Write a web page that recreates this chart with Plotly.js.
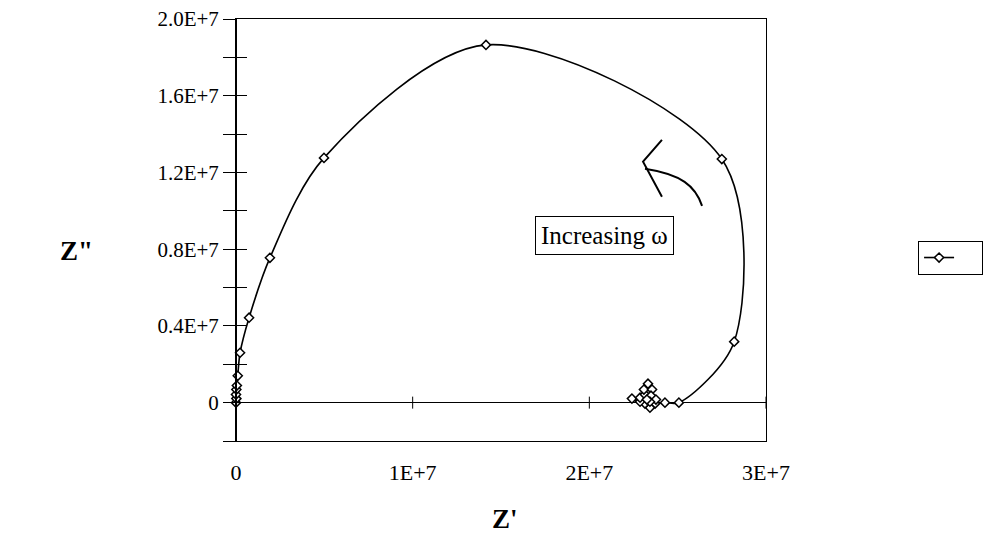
<!DOCTYPE html>
<html>
<head>
<meta charset="utf-8">
<script src="https://cdn.plot.ly/plotly-3.0.1.min.js"></script>
<style>html,body{margin:0;padding:0;background:#fff;}#chart{width:984px;height:534px;}</style>
</head>
<body>
<div id="chart"></div>
<script>
const zReal = [0, 2e4, 0, 2e4, 5e4, 1.0e5, 2.3e5, 7.4e5, 1.92e6, 4.98e6, 1.415e7, 2.75e7, 2.82e7, 2.507e7,
  2.428e7, 2.372e7, 2.343e7, 2.315e7, 2.287e7, 2.241e7, 2.287e7, 2.315e7, 2.309e7, 2.332e7, 2.355e7, 2.349e7, 2.377e7, 2.343e7, 2.326e7];
const zImag = [0, 2.1e5, 4.2e5, 6.8e5, 8.9e5, 1.4e6, 2.6e6, 4.43e6, 7.55e6, 1.276e7, 1.865e7, 1.27e7, 3.18e6, 0,
  0, -5e4, -2.6e5, -5e4, 5e4, 2.1e5, 2.6e5, 4.2e5, 6.8e5, 9.9e5, 6.8e5, 3.6e5, 1.6e5, 5e4, 1.6e5];

const yTickVals = [-2e6, 0, 2e6, 4e6, 6e6, 8e6, 1e7, 1.2e7, 1.4e7, 1.6e7, 1.8e7, 2e7];
const yTickText = ['', '0', '', '0.4E+7', '', '0.8E+7', '', '1.2E+7', '', '1.6E+7', '', '2.0E+7'];
const xTickVals = [0, 1e7, 2e7, 3e7];
const xTickText = ['0', '1E+7', '2E+7', '3E+7'];

const serif = 'Liberation Serif, Times New Roman, serif';
const xRange = [0, 3e7];
const yRange = [-2e6, 2e7];

const trace = {
  x: zReal, y: zImag, type: 'scatter', mode: 'lines+markers', name: '     ',
  line: {color: '#000', width: 1.6, shape: 'spline', smoothing: 0.9},
  marker: {symbol: 'diamond', size: 7, color: '#fff', line: {color: '#000', width: 1.5}},
  cliponaxis: false
};

const shapes = xTickVals.slice(1).map(v => ({
  type: 'line', xref: 'x', yref: 'y', ysizemode: 'pixel', yanchor: 0,
  x0: v, x1: v, y0: -6, y1: 6, line: {color: '#000', width: 1}
}));
// thicker left axis line at Z' = 0
shapes.push({type: 'line', xref: 'x', yref: 'paper', x0: 0, x1: 0, y0: 0, y1: 1, line: {color: '#000', width: 2}});
// "Increasing ω" hand-drawn arrow
shapes.push({type: 'path', xref: 'x', yref: 'y',
  path: 'M 26380000,10260000 C 26000000,11300000 25200000,11900000 23150000,12190000',
  line: {color: '#000', width: 2}});
shapes.push({type: 'path', xref: 'x', yref: 'y',
  path: 'M 24110000,13700000 L 23040000,12560000 L 24110000,10730000',
  line: {color: '#000', width: 2}});

const layout = {
  width: 984, height: 534,
  margin: {l: 236, r: 218, t: 19, b: 93, autoexpand: false},
  paper_bgcolor: '#fff', plot_bgcolor: '#fff',
  font: {family: serif, color: '#000', size: 21},
  showlegend: true,
  legend: {xref: 'container', yref: 'container', x: 0.933, xanchor: 'left', y: 0.517, yanchor: 'middle',
    bordercolor: '#000', borderwidth: 1, bgcolor: '#fff', itemwidth: 30,
    font: {family: serif, size: 14}},
  xaxis: {range: xRange, tickvals: xTickVals, ticktext: xTickText, ticks: '',
    showline: true, linecolor: '#000', linewidth: 1, mirror: true,
    showgrid: false, zeroline: false, ticklabelstandoff: 12,
    tickfont: {family: serif, size: 22}},
  yaxis: {range: yRange, tickvals: yTickVals, ticktext: yTickText, ticks: 'outside', ticklen: 12,
    tickcolor: '#000', showline: true, linecolor: '#000', linewidth: 1, mirror: true,
    showgrid: false, zeroline: true, zerolinecolor: '#000', zerolinewidth: 1,
    ticklabelstandoff: 0, tickfont: {family: serif, size: 21}},
  yaxis2: {range: yRange, tickvals: yTickVals, overlaying: 'y', anchor: 'x', side: 'left',
    ticks: 'inside', ticklen: 11, tickcolor: '#000', showticklabels: false,
    showline: false, showgrid: false, zeroline: false},
  shapes: shapes,
  annotations: [
    {text: 'Increasing ω', xref: 'x', yref: 'y', x: 20830000, y: 8700000, showarrow: false,
      bordercolor: '#000', borderwidth: 1, borderpad: 5, bgcolor: '#fff',
      font: {family: serif, size: 25, color: '#000'}},
    {text: '<b>Z"</b>', xref: 'paper', yref: 'paper', x: -0.335, y: 0.45, showarrow: false,
      font: {family: serif, size: 27, color: '#000'}},
    {text: "<b>Z'</b>", xref: 'paper', yref: 'paper', x: 0.508, y: -0.185, yanchor: 'middle', showarrow: false,
      font: {family: serif, size: 27, color: '#000'}}
  ]
};

const dummy = {x: [0], y: [0], yaxis: 'y2', mode: 'markers', marker: {opacity: 0}, showlegend: false, hoverinfo: 'skip'};
Plotly.newPlot('chart', [trace, dummy], layout, {staticPlot: true});
</script>
</body>
</html>
